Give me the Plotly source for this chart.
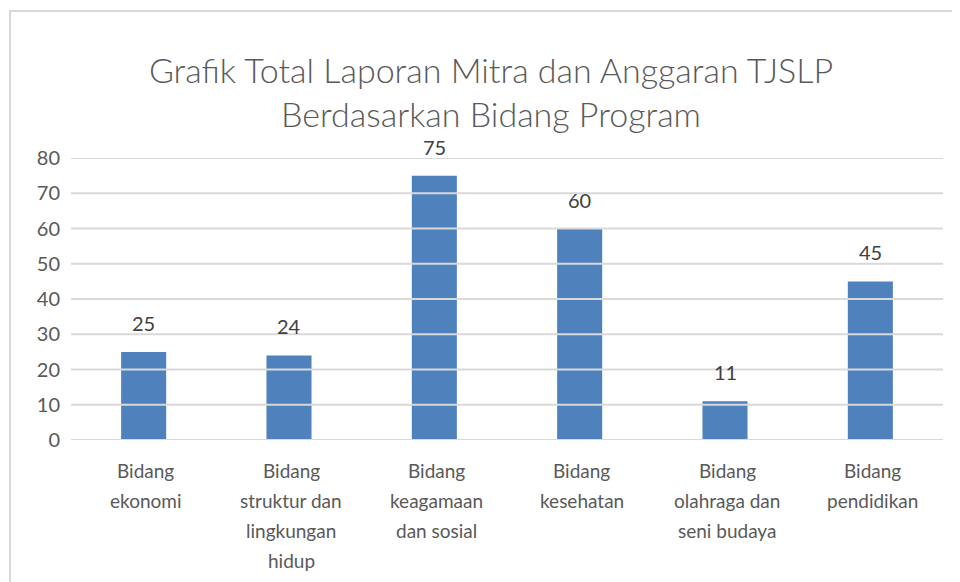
import plotly.graph_objects as go

categories = ["Bidang ekonomi", "Bidang struktur dan lingkungan hidup",
              "Bidang keagamaan dan sosial", "Bidang kesehatan",
              "Bidang olahraga dan seni budaya", "Bidang pendidikan"]
label_lines = [["Bidang", "ekonomi"],
               ["Bidang", "struktur dan", "lingkungan", "hidup"],
               ["Bidang", "keagamaan", "dan sosial"],
               ["Bidang", "kesehatan"],
               ["Bidang", "olahraga dan", "seni budaya"],
               ["Bidang", "pendidikan"]]
values = [25, 24, 75, 60, 11, 45]
y_ticks = [0, 10, 20, 30, 40, 50, 60, 70, 80]
title_text = "Grafik Total Laporan Mitra dan Anggaran TJSLP<br>Berdasarkan Bidang Program"

FONT = "Lato"
# page body has an 8px default margin; figure coordinates are offset accordingly
L, R, T, B = 63, 25, 150, 150
PW, PH = 960 - L - R, 582 - T - B

fig = go.Figure()
fig.add_trace(go.Bar(
    x=categories, y=values,
    marker=dict(color="#4F81BD", line=dict(width=0)),
))

shapes = []
for t in y_ticks:
    shapes.append(dict(type="line", xref="paper", yref="y", x0=0, x1=1, y0=t, y1=t,
                       line=dict(color="#D9D9D9", width=2), layer="above"))
shapes.append(dict(type="rect", xref="paper", yref="paper",
                   x0=(2 - L) / PW, x1=1.2, y0=-1, y1=(582 - 3 - T) / PH,
                   line=dict(color="#D9D9D9", width=2), layer="below"))

annotations = []
for cat, v in zip(categories, values):
    annotations.append(dict(x=cat, xref="x", y=v, yref="y", text=str(v),
                            showarrow=False, yanchor="middle", yshift=29,
                            font=dict(family=FONT, size=20, color="#404040")))
for cat, lines in zip(categories, label_lines):
    for i, ln in enumerate(lines):
        annotations.append(dict(x=cat, xref="x", y=0, yref="paper", text=ln,
                                showarrow=False, yanchor="middle",
                                yshift=-30 - 30 * i, xshift=2,
                                font=dict(family=FONT, size=19, color="#595959")))

fig.update_layout(
    width=960, height=582,
    margin=dict(l=L, r=R, t=T, b=B),
    paper_bgcolor="white", plot_bgcolor="white",
    bargap=0.69,
    showlegend=False,
    title=dict(text=title_text, x=483 / 960, xanchor="center", xref="container",
               y=1 - 74.5 / 582, yanchor="middle",
               font=dict(family=FONT, size=34, color="#595959", weight=300)),
    xaxis=dict(showticklabels=False, showgrid=False, zeroline=False, showline=False),
    yaxis=dict(range=[0, 80], tickvals=y_ticks, showgrid=False, zeroline=False,
               showline=False, ticks="", ticklabelstandoff=10,
               tickfont=dict(family=FONT, size=20, color="#595959")),
    shapes=shapes, annotations=annotations,
)
fig.write_html("out.html")
